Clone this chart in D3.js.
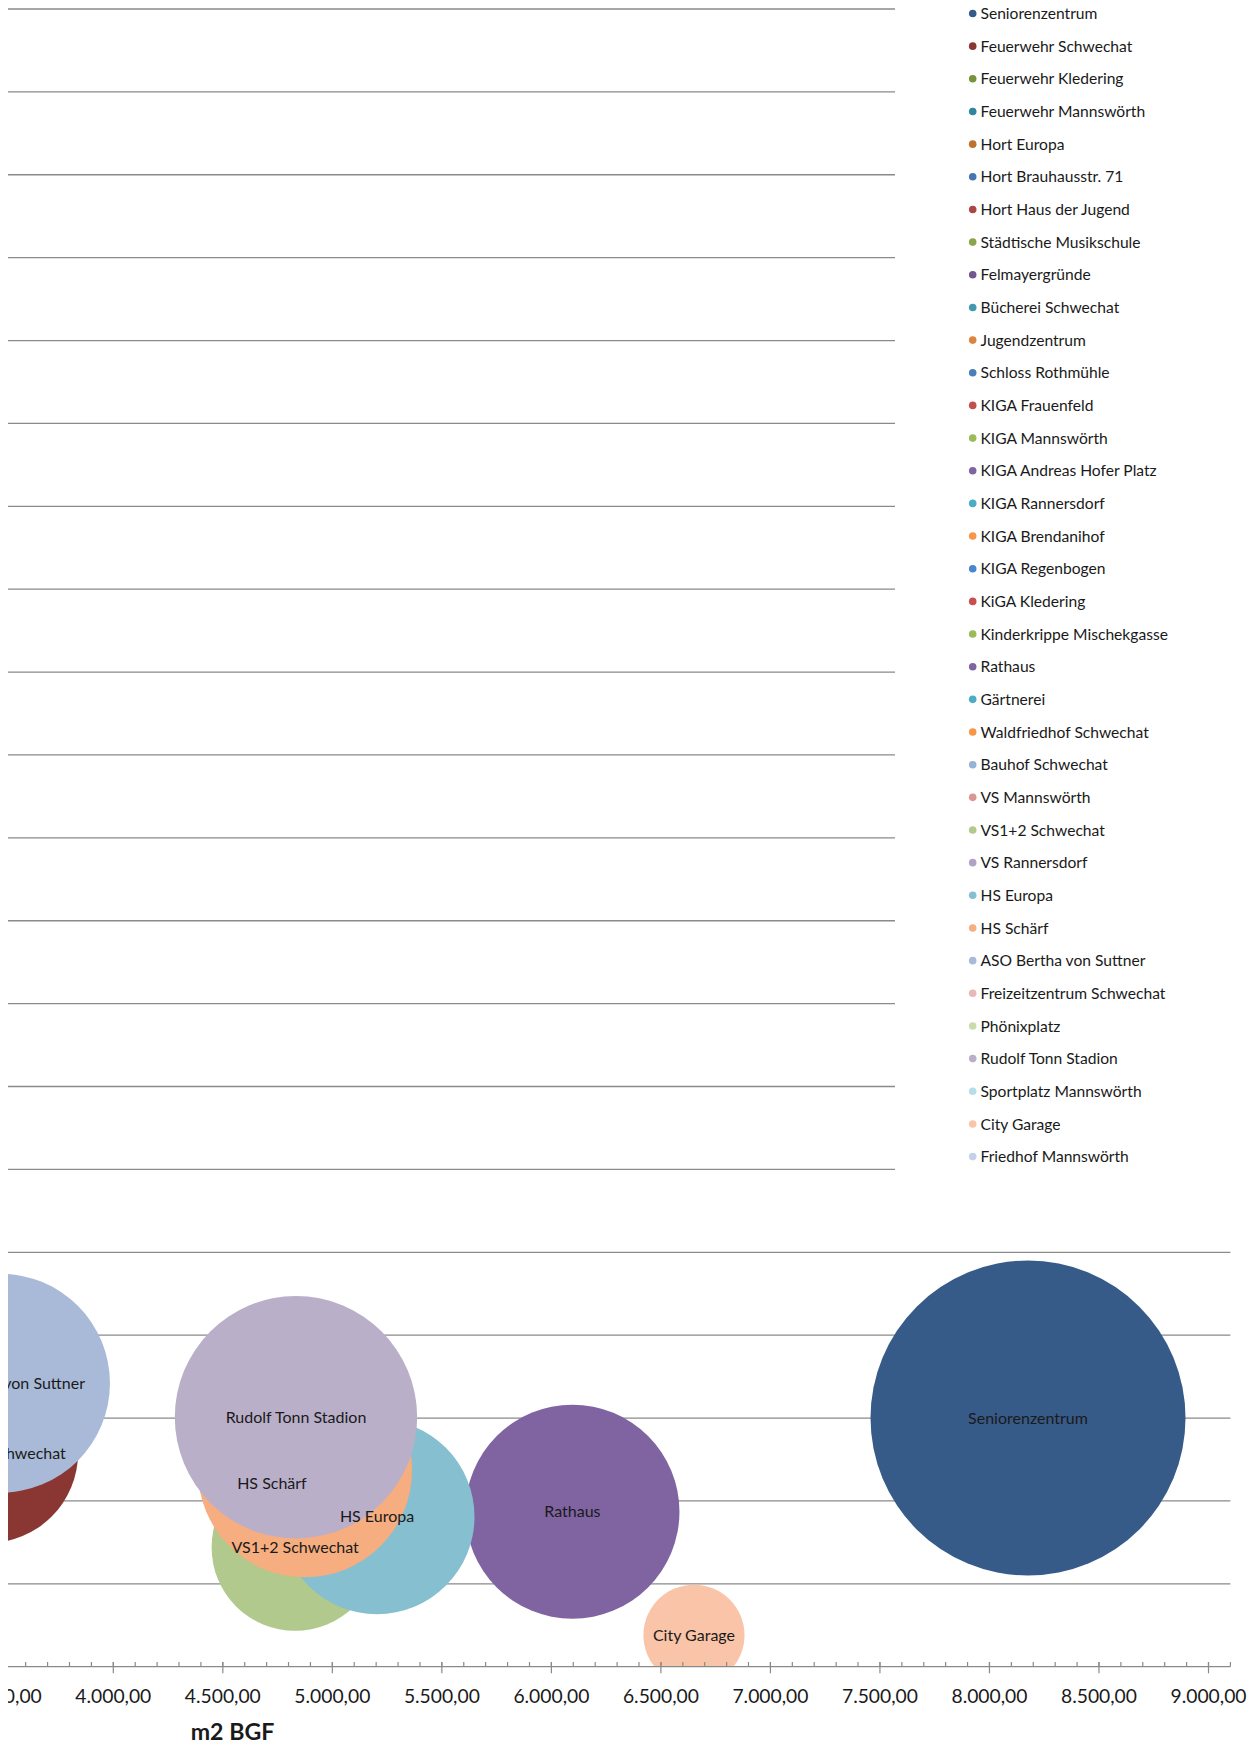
<!DOCTYPE html>
<html><head><meta charset="utf-8">
<script src="https://cdn.jsdelivr.net/npm/d3@7"></script>
<style>html,body{margin:0;padding:0;background:#fff;}svg{display:block;}</style>
</head><body>
<svg id="c" width="1258" height="1741"></svg>
<script>
// ---- data ----
const seriesNames = ["Seniorenzentrum","Feuerwehr Schwechat","Feuerwehr Kledering","Feuerwehr Mannswörth","Hort Europa","Hort Brauhausstr. 71","Hort Haus der Jugend","Städtische Musikschule","Felmayergründe","Bücherei Schwechat","Jugendzentrum","Schloss Rothmühle","KIGA Frauenfeld","KIGA Mannswörth","KIGA Andreas Hofer Platz","KIGA Rannersdorf","KIGA Brendanihof","KIGA Regenbogen","KiGA Kledering","Kinderkrippe Mischekgasse","Rathaus","Gärtnerei","Waldfriedhof Schwechat","Bauhof Schwechat","VS Mannswörth","VS1+2 Schwechat","VS Rannersdorf","HS Europa","HS Schärf","ASO Bertha von Suttner","Freizeitzentrum Schwechat","Phönixplatz","Rudolf Tonn Stadion","Sportplatz Mannswörth","City Garage","Friedhof Mannswörth"];
const seriesColors = ["#375B88","#8A3633","#77933C","#31859C","#C0702F","#4775B0","#AA4643","#89A54E","#71588F","#4198AF","#DB843D","#4A7EBB","#C0504D","#9BBB59","#8064A2","#4BACC6","#F79646","#4A86D0","#C84F4F","#9BBB59","#8064A2","#4BACC6","#F79646","#95B3D7","#D99694","#B1C98C","#B3A2C7","#86BFD0","#F6AD7F","#A9BAD8","#E6B9B8","#C9DCA8","#B9AFC9","#B7DEE8","#F9C4A7","#C5D1E8"];
// x: m2 BGF (null = outside the visible part of the chart)
const m2BGF   = [8176,3428,null,null,null,null,null,null,null,null,null,null,null,null,null,null,null,null,null,null,6096,null,null,null,null,4830,null,5204,4875,3485,null,null,4834,null,6651,null];
const yValues = [30.0,25.8,null,null,null,null,null,null,null,null,null,null,null,null,null,null,null,null,null,null,18.7,null,null,null,null,14.4,null,18.1,23.7,34.2,null,null,30.1,null,3.8,null];
const bubbleSizes = [1000,327,null,null,null,null,null,null,null,null,null,null,null,null,null,null,null,null,null,null,462,null,null,null,null,281,null,383,462,483,null,null,592,null,103,null];
const xTickValues = d3.range(3000, 9101, 500);
const xMinorValues = d3.range(3000, 9101, 100);
const yTickValues = d3.range(0, 201, 10);
const xTitle = "m2 BGF";
const labelNudge = {"HS Schärf": [-33, 13]};

// ---- layout ----
const svg = d3.select("#c");
const FONT = "Lato, 'Open Sans', sans-serif";
const k = 0.21904;
const x = d3.scaleLinear().domain([3000, 9100]).range([113.3 - 1000*k, 113.3 + 5100*k]);
const y = d3.scaleLinear().domain([0, 200]).range([1666.7, 9]);
const r = d3.scaleSqrt().domain([0, 1000]).range([0, 157.5]);

function fit(pairs, weight) {
  const sizes = pairs.map(([text, target]) => {
    const t = svg.append("text").attr("font-family", FONT).attr("font-size", 100)
      .attr("font-weight", weight || "normal").text(text);
    const w = t.node().getComputedTextLength();
    t.remove();
    return 100 * target / w;
  });
  return d3.mean(sizes);
}
const fsLabel = fit([["Seniorenzentrum",124.5],["Rudolf Tonn Stadion",144.7],["VS1+2 Schwechat",125],["HS Europa",72.7],["HS Schärf",67.7]]);
const fsLegend = fit([["Seniorenzentrum",122.6],["Feuerwehr Mannswörth",153],["Kinderkrippe Mischekgasse",192]]);
const fsTick = fit([["4.000,00", 76]]);
const fsTitle = fit([["m2 BGF", 83.6]], "bold");
const CAP = 0.358;

const defs = svg.append("defs");
defs.append("clipPath").attr("id", "outer").append("rect")
  .attr("x", 8).attr("y", 0).attr("width", 1250).attr("height", 1741);
defs.append("clipPath").attr("id", "plot").append("rect")
  .attr("x", 8).attr("y", 0).attr("width", x(9100) - 8).attr("height", y(0));

const root = svg.append("g").attr("clip-path", "url(#outer)");

// gridlines
root.append("g").selectAll("line").data(yTickValues.filter(v => v > 0)).join("line")
  .attr("x1", x(3000)).attr("x2", x(9100))
  .attr("y1", d => y(d)).attr("y2", d => y(d))
  .attr("stroke", "#8a8a8a").attr("stroke-width", 1.3);

// bubbles
const data = seriesNames.map((n, i) => ({name: n, color: seriesColors[i], x: m2BGF[i], y: yValues[i], s: bubbleSizes[i]}))
  .filter(d => d.x != null);
const plot = root.append("g").attr("clip-path", "url(#plot)");
plot.selectAll("circle").data(data).join("circle")
  .attr("cx", d => x(d.x)).attr("cy", d => y(d.y)).attr("r", d => r(d.s))
  .attr("fill", d => d.color);
plot.selectAll("text").data(data).join("text")
  .attr("x", d => x(d.x) + (labelNudge[d.name] ? labelNudge[d.name][0] : 0))
  .attr("y", d => y(d.y) + (labelNudge[d.name] ? labelNudge[d.name][1] : 0) + CAP * fsLabel)
  .attr("text-anchor", "middle").attr("font-family", FONT).attr("font-size", fsLabel)
  .attr("fill", "#1a1a1a").text(d => d.name);

// x axis
const axG = root.append("g");
axG.append("line").attr("x1", x(3000)).attr("x2", x(9100)).attr("y1", y(0)).attr("y2", y(0))
  .attr("stroke", "#8a8a8a").attr("stroke-width", 1.3);
axG.append("g").selectAll("line").data(xMinorValues).join("line")
  .attr("x1", d => x(d)).attr("x2", d => x(d))
  .attr("y1", y(0) - 4.7).attr("y2", y(0))
  .attr("stroke", "#8a8a8a").attr("stroke-width", 1.2);
axG.append("g").selectAll("line").data(xTickValues).join("line")
  .attr("x1", d => x(d)).attr("x2", d => x(d))
  .attr("y1", y(0) - 4.7).attr("y2", y(0) + 6.6)
  .attr("stroke", "#8a8a8a").attr("stroke-width", 1.2);
const fmt = d3.formatLocale({decimal: ",", thousands: ".", grouping: [3], currency: ["", "€"]}).format(",.2f");
axG.append("g").selectAll("text").data(xTickValues).join("text")
  .attr("x", d => x(d)).attr("y", 1702.7)
  .attr("text-anchor", "middle").attr("font-family", FONT).attr("font-size", fsTick)
  .attr("fill", "#1a1a1a").text(d => fmt(d));
root.append("text").attr("x", 232.5).attr("y", 1740)
  .attr("text-anchor", "middle").attr("font-family", FONT).attr("font-size", fsTitle)
  .attr("font-weight", "bold").attr("fill", "#1a1a1a").text(xTitle);

// legend
const leg = svg.append("g");
leg.append("rect").attr("x", 895).attr("y", -5).attr("width", 400).attr("height", 1205).attr("fill", "#fff");
const rows = leg.selectAll("g.row").data(seriesNames).join("g").attr("class", "row")
  .attr("transform", (d, i) => `translate(0,${13.5 + i * 32.66})`);
rows.append("circle").attr("cx", 972.7).attr("cy", 0).attr("r", 3.8)
  .attr("fill", (d, i) => seriesColors[i]);
rows.append("text").attr("x", 980.5).attr("y", CAP * fsLegend)
  .attr("font-family", FONT).attr("font-size", fsLegend).attr("fill", "#1a1a1a").text(d => d);
</script>
</body></html>
